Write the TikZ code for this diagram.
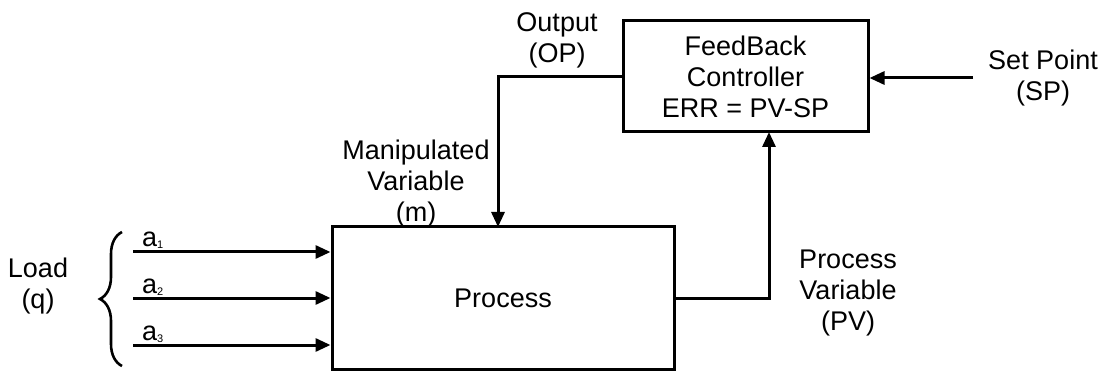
\documentclass[tikz,border=0pt]{standalone}
\usepackage{fontspec}
\setmainfont{Liberation Sans}
\usetikzlibrary{arrows.meta,decorations.pathreplacing}
\newcommand{\sbs}[1]{\raisebox{-2pt}{\fontsize{11}{11}\selectfont #1}}
\begin{document}
\begin{tikzpicture}[x=1pt,y=-1pt,
  blk/.style={draw,line width=3pt,rectangle,inner sep=0pt},
  lbl/.style={font=\fontsize{27}{31}\selectfont,align=center,inner sep=0pt},
  sub/.style={font=\fontsize{27}{31}\selectfont,inner sep=0pt,anchor=base west},
  arr/.style={line width=3pt,-{Triangle[length=15pt,width=13pt]}},
  conn/.style={line width=3pt}]
\useasboundingbox (0,0) rectangle (1105,371);
% blocks
\node[blk,minimum width=342pt,minimum height=142pt] (process) at (503,298) {};
\node[lbl] (ptext) at (503,298) {Process};
\node[blk,minimum width=245pt,minimum height=111pt] (ctrl) at (745.5,76.5) {};
\node[lbl] (ctext) at (745.5,77) {FeedBack\\Controller\\ERR = PV-SP};
% coordinates
\coordinate (mtop) at (498,227);
\coordinate (pvtop) at (769,132);
\coordinate (spin) at (973,78);
\coordinate (l1) at (133,252);
\coordinate (l2) at (133,298);
\coordinate (l3) at (133,345);
\coordinate (bb) at (122,366);
\coordinate (bt) at (122,232);
% connectors
\draw[arr] (ctrl.west) -| (mtop);
\draw[arr] (process.east) -| (pvtop);
\draw[arr] (spin) -- (spin -| ctrl.east);
\draw[arr] (l1) -- (l1 -| process.west);
\draw[arr] (l2) -- (l2 -| process.west);
\draw[arr] (l3) -- (l3 -| process.west);
\draw[line width=2.6pt,decorate,decoration={brace,amplitude=22pt,aspect=0.5}] (bb) -- (bt);
% labels
\node[lbl] (op) at (557,40) {Output\\(OP)};
\node[lbl] (mv) at (416,184) {Manipulated\\Variable\\(m)};
\node[lbl] (pv) at (848,293) {Process\\Variable\\(PV)};
\node[lbl] (load) at (38,286) {Load\\(q)};
\node[lbl] (sp) at (1043,78) {Set Point\\(SP)};
\node[sub] (a1) at (142,247) {a\sbs{1}};
\node[sub] (a2) at (142,293) {a\sbs{2}};
\node[sub] (a3) at (142,340) {a\sbs{3}};
\end{tikzpicture}
\end{document}
